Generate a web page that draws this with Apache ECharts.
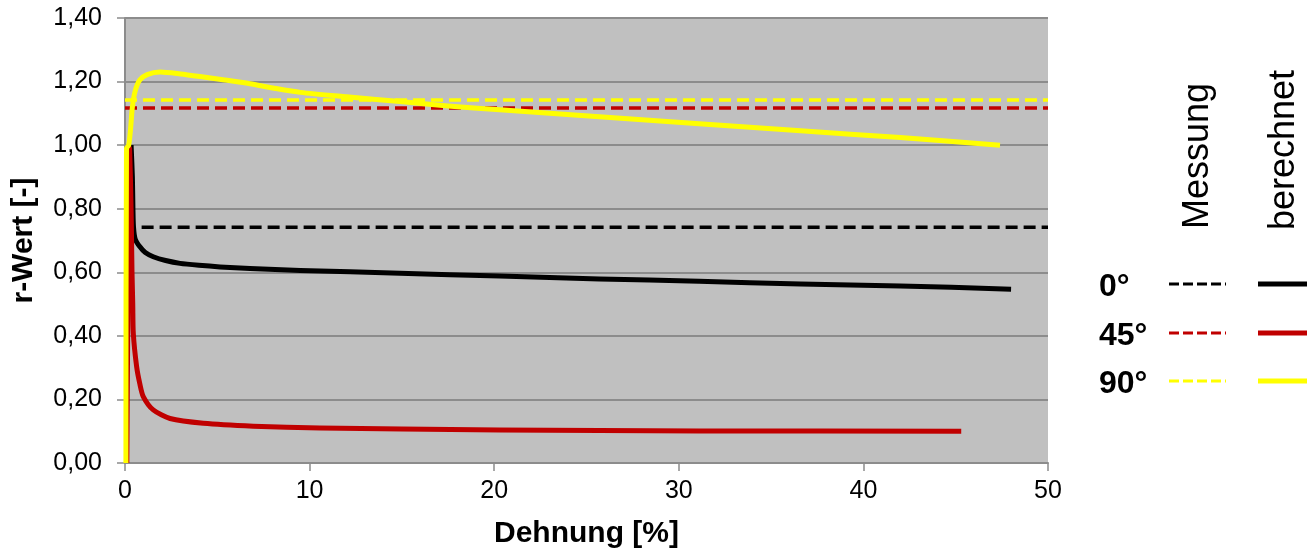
<!DOCTYPE html>
<html>
<head>
<meta charset="utf-8">
<script src="https://cdn.jsdelivr.net/npm/echarts@6/dist/echarts.min.js"></script>
<style>
html,body{margin:0;padding:0;background:#fff;}
#main{width:1307px;height:556px;}
</style>
</head>
<body>
<div id="main"></div>
<script>
// berechnet (Dehnung %, r-Wert)
var calc0 = [[0.33,1.0],[0.4,0.9],[0.43,0.8],[0.46,0.743],[0.55,0.705],[0.81,0.68],[1.1,0.662],[1.53,0.649],[2.2,0.637],[2.98,0.628],[4,0.622],[5.15,0.617],[6.77,0.612],[9.5,0.606],[14.9,0.597],[20.3,0.588],[25.7,0.579],[31.1,0.572],[36.6,0.563],[42,0.557],[48,0.547]];
var calc45 = [[0.1,0.0],[0.25,0.99],[0.33,0.8],[0.38,0.6],[0.42,0.5],[0.45,0.408],[0.63,0.303],[0.8,0.25],[0.99,0.209],[1.53,0.167],[2.44,0.14],[4.24,0.125],[6.95,0.116],[10.56,0.11],[15,0.107],[20.3,0.104],[31.1,0.101],[45.3,0.1]];
var calc90 = [[0.05,0.0],[0.08,0.99],[0.2,1.0],[0.3,1.05],[0.4,1.12],[0.55,1.17],[0.8,1.205],[1.2,1.222],[1.9,1.23],[3,1.224],[4.06,1.216],[5.4,1.205],[6.77,1.193],[8,1.18],[9.5,1.166],[12,1.152],[14.9,1.137],[17.5,1.123],[20.3,1.111],[25.7,1.089],[31.1,1.067],[36.6,1.045],[42,1.024],[47.4,1.0]];
// Messung (konstant)
var meas0 = [[0.9,0.742],[50,0.742]];
var meas45 = [[0,1.117],[50,1.117]];
var meas90 = [[0,1.142],[50,1.142]];

var rowLabels = ['0°','45°','90°'];
var colors = ['#000000','#c00000','#ffff00'];

var myChart = echarts.init(document.getElementById('main'));

var rowY = [284,333,381];
var graphics = [
    {type:'text', x:1198, y:229, rotation:Math.PI/2, style:{text:'Messung', font:'36px "Liberation Sans", Arial', fill:'#000', align:'left', verticalAlign:'middle'}},
    {type:'text', x:1284, y:230, rotation:Math.PI/2, style:{text:'berechnet', font:'36px "Liberation Sans", Arial', fill:'#000', align:'left', verticalAlign:'middle'}}
];
for(var i=0;i<rowLabels.length;i++){
    graphics.push({type:'text', x:1099, y:rowY[i]+3, style:{text:rowLabels[i], font:'bold 32px "Liberation Sans", Arial', fill:'#000', align:'left', verticalAlign:'middle'}});
    graphics.push({type:'line', shape:{x1:1169,y1:rowY[i],x2:1226,y2:rowY[i]}, style:{stroke:colors[i], lineWidth:3, lineDash:[10,4]}});
    graphics.push({type:'line', shape:{x1:1258,y1:rowY[i],x2:1312,y2:rowY[i]}, style:{stroke:colors[i], lineWidth:5}});
}

var option = {
    animation:false,
    backgroundColor:'#ffffff',
    textStyle:{fontFamily:'"Liberation Sans", Arial'},
    grid:{left:125, right:259, top:18, bottom:93, show:true, backgroundColor:'#c0c0c0', borderWidth:0},
    xAxis:{
        type:'value', min:0, max:50, interval:10,
        name:'Dehnung [%]', nameLocation:'middle', nameGap:56,
        nameTextStyle:{fontSize:30, fontWeight:'bold', color:'#000'},
        axisLine:{show:true, lineStyle:{color:'#8c8c8c', width:2}},
        axisTick:{show:true, length:8, lineStyle:{color:'#8c8c8c', width:1.5}},
        axisLabel:{fontSize:25, color:'#000', margin:16},
        splitLine:{show:false}
    },
    yAxis:{
        type:'value', min:0, max:1.4, interval:0.2,
        name:'r-Wert [-]', nameLocation:'middle', nameGap:86,
        nameTextStyle:{fontSize:30, fontWeight:'bold', color:'#000'},
        axisLine:{show:true, lineStyle:{color:'#8c8c8c', width:2}},
        axisTick:{show:true, length:8, lineStyle:{color:'#8c8c8c', width:1.5}},
        axisLabel:{fontSize:25, color:'#000', margin:23, formatter:function(v){return v.toFixed(2).replace('.',',');}},
        splitLine:{show:true, lineStyle:{color:'#8c8c8c', width:2}}
    },
    series:[
        {type:'line', data:meas0, symbol:'none', lineStyle:{color:colors[0], width:3.5, type:[12,6]}},
        {type:'line', data:meas45, symbol:'none', lineStyle:{color:colors[1], width:3.5, type:[12,6]}},
        {type:'line', data:meas90, symbol:'none', lineStyle:{color:colors[2], width:3.5, type:[12,6]}},
        {type:'line', data:calc0, symbol:'none', smooth:0.25, lineStyle:{color:colors[0], width:5, join:'round'}},
        {type:'line', data:calc45, symbol:'none', smooth:0.25, lineStyle:{color:colors[1], width:5, join:'round'}},
        {type:'line', data:calc90, symbol:'none', smooth:0.25, lineStyle:{color:colors[2], width:5, join:'round'}}
    ],
    graphic:graphics
};
myChart.setOption(option);
</script>
</body>
</html>
